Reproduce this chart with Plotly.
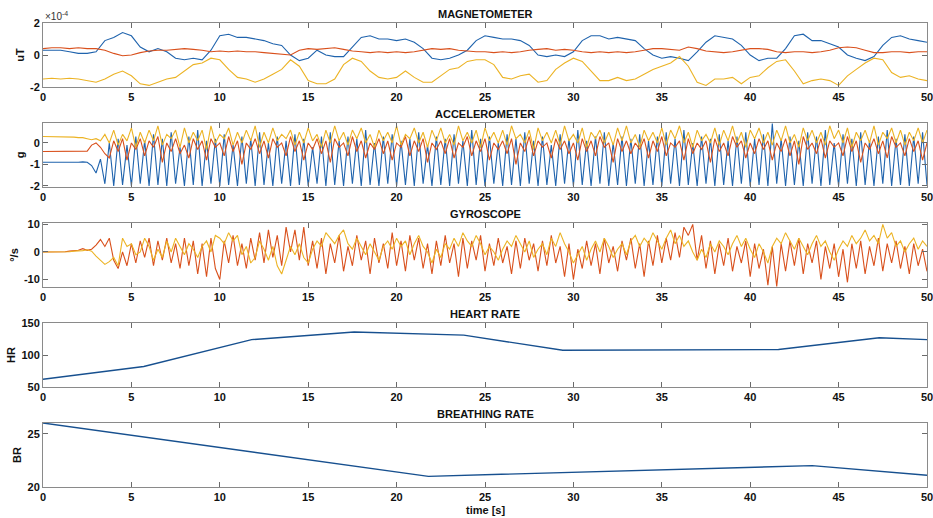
import numpy as np
import plotly.graph_objects as go

# ---------------- DATA ----------------
# Magnetometer (units of 1e-4 uT), sampled every 0.5 s
mag_dt = 0.5
mag_x = [0.3,0.3,0.3,0.2,0.1,0.1,0.2,0.9,1.1,1.4,1.2,0.5,0.2,0.4,0.2,-0.2,-0.3,-0.2,-0.3,0.3,
         1.2,1.3,1.1,1.1,1.0,0.9,0.7,0.6,0.0,-0.35,-0.2,0.3,0.0,-0.1,-0.1,0.5,1.1,1.2,1.0,1.0,
         0.9,1.0,0.8,0.4,-0.2,-0.3,-0.2,0.0,0.3,0.9,1.2,1.1,1.0,1.0,0.9,0.6,0.0,-0.1,0.0,-0.1,
         0.2,0.9,1.2,1.2,1.0,1.1,1.0,0.9,0.4,0.0,-0.2,-0.1,-0.2,-0.35,0.2,0.8,1.2,1.1,1.0,0.6,
         0.0,-0.35,-0.2,-0.2,0.4,1.2,1.3,0.9,0.9,0.7,0.5,0.0,-0.2,-0.35,-0.1,0.6,1.1,1.2,1.0,0.9,0.8]
mag_y = [0.4,0.45,0.45,0.4,0.45,0.4,0.4,0.3,0.1,-0.05,0.0,0.15,0.25,0.3,0.3,0.35,0.4,0.35,0.3,0.2,
         0.25,0.2,0.25,0.2,0.2,0.15,0.1,0.05,0.0,0.3,0.4,0.35,0.4,0.45,0.35,0.25,0.2,0.15,0.2,0.15,
         0.2,0.15,0.2,0.3,0.4,0.35,0.4,0.3,0.25,0.2,0.2,0.15,0.2,0.15,0.2,0.3,0.35,0.4,0.3,0.35,
         0.3,0.2,0.15,0.2,0.15,0.2,0.15,0.2,0.3,0.4,0.4,0.35,0.3,0.5,0.4,0.25,0.2,0.15,0.2,0.3,
         0.4,0.4,0.35,0.2,0.15,0.2,0.2,0.15,0.2,0.3,0.45,0.5,0.45,0.3,0.15,0.15,0.2,0.2,0.15,0.2,0.2]
mag_z = [-1.5,-1.45,-1.5,-1.45,-1.5,-1.6,-1.7,-1.5,-1.2,-1.0,-1.3,-1.8,-1.9,-1.7,-1.5,-1.4,-1.0,-0.6,-0.5,-0.2,
         -0.3,-0.9,-1.4,-1.5,-1.7,-1.5,-1.2,-0.9,-0.3,-0.7,-1.6,-1.8,-1.8,-1.5,-0.6,-0.2,-0.4,-1.0,-1.4,-1.5,
         -1.4,-1.0,-1.4,-1.7,-1.7,-1.3,-0.9,-0.8,-0.4,-0.3,-0.3,-0.6,-1.4,-1.5,-1.3,-1.2,-1.7,-1.6,-0.9,-0.5,
         -0.2,-0.4,-1.0,-1.6,-1.6,-1.4,-1.6,-1.5,-1.2,-0.9,-0.7,-0.5,-0.1,-0.7,-1.7,-1.9,-1.5,-1.5,-1.4,-1.8,
         -1.4,-1.3,-0.8,-0.4,-0.3,-1.0,-1.8,-1.6,-1.5,-1.6,-1.9,-1.3,-0.9,-0.5,-0.2,-0.3,-1.1,-1.4,-1.3,-1.5,-1.6]

# Accelerometer (g), sampled every 0.25 s
acc_dt = 0.25
acc_x = [-0.9,-0.9,-0.9,-0.9,-0.9,-0.9,-0.9,-0.92,-0.9,-0.88,-0.9,-1.05,-1.4,-0.75,-1.9,
         0.0,-2.0,0.2,-1.95,-0.1,-2.0,0.3,-1.9,0.1,-2.0,
         0.4,-1.95,0.2,-2.0,0.5,-1.9,-0.2,-2.0,0.3,-1.95,
         0.6,-2.0,0.1,-1.9,0.2,-2.0,0.4,-1.95,-0.1,-2.0,
         0.3,-1.9,0.2,-2.0,0.5,-1.95,0.0,-2.0,0.3,-1.9,
         0.1,-2.0,0.4,-1.95,0.2,-2.0,-0.2,-1.9,0.3,-2.0,
         0.5,-1.95,0.1,-2.0,0.3,-1.9,0.2,-2.0,0.6,-1.95,
         0.0,-2.0,0.3,-1.9,0.4,-2.0,0.1,-1.95,0.2,-2.0,
         0.5,-1.9,-0.1,-2.0,0.3,-1.95,0.2,-2.0,0.4,-1.9,
         0.1,-2.0,0.6,-1.95,0.2,-2.0,0.3,-1.9,0.0,-2.0,
         0.4,-1.95,0.2,-2.0,0.5,-1.9,0.1,-2.0,0.3,-1.95,
         -0.1,-2.0,0.4,-1.9,0.2,-2.0,0.6,-1.95,0.1,-2.0,
         0.3,-1.9,0.5,-2.0,0.0,-1.95,0.3,-2.0,0.2,-1.9,
         0.4,-2.0,0.1,-1.95,0.3,-2.0,0.5,-1.9,0.2,-2.0,
         0.6,-1.95,0.0,-2.0,0.3,-1.9,0.2,-2.0,0.4,-1.95,
         0.1,-2.0,0.3,-1.9,0.5,-2.0,0.2,-1.95,0.4,-2.0,
         0.9,-1.9,0.2,-2.0,0.3,-1.95,0.1,-2.0,0.5,-1.9,
         0.3,-2.0,0.6,-1.95,0.0,-2.0,0.4,-1.9,0.2,-2.0,
         0.5,-1.95,0.1,-2.0,0.3,-1.9,0.6,-2.0,0.2,-1.95,
         0.4,-2.0,0.3,-1.9,0.5,-1.95]
acc_y = [-0.4,-0.4,-0.4,-0.4,-0.4,-0.4,-0.4,-0.4,-0.4,-0.4,-0.38,-0.1,0.0,-0.2,-0.5,
         -0.7,0.1,-0.4,0.2,-0.8,0.0,-0.3,0.2,-0.6,0.1,
         -0.2,0.3,-0.9,0.0,-0.4,0.2,-0.5,-0.1,-0.7,0.2,
         -0.3,0.1,-0.8,0.2,-0.2,0.0,-0.6,0.3,-0.4,0.1,
         -1.0,0.0,-0.3,0.2,-0.5,0.1,-0.7,0.2,-0.2,0.0,
         -0.6,0.3,-0.4,0.1,-0.8,0.0,-0.3,0.2,-0.5,0.1,
         -0.9,0.2,-0.2,0.0,-0.6,0.3,-0.4,0.1,-0.7,0.0,
         -0.3,0.2,-0.5,0.1,-0.8,0.0,-0.2,0.3,-0.6,0.1,
         -0.4,0.2,-0.9,0.0,-0.3,0.1,-0.5,0.2,-0.7,0.0,
         -0.2,0.3,-0.6,0.1,-0.4,0.2,-0.8,0.0,-0.3,0.1,
         -0.5,0.2,-1.0,0.0,-0.4,0.3,-0.6,0.1,-0.2,0.0,
         -0.7,0.2,-0.3,0.1,-0.5,0.0,-0.8,0.2,-0.4,0.1,
         -0.6,0.3,-0.2,0.0,-0.9,0.2,-0.4,0.1,-0.5,0.0,
         -0.3,0.2,-0.7,0.1,-0.4,0.3,-0.6,0.0,-0.2,0.1,
         -0.8,0.2,-0.5,0.0,-0.3,0.1,-0.9,0.2,-0.4,0.0,
         -0.6,0.3,-0.2,0.1,-0.7,0.0,-0.5,0.2,-0.3,0.1,
         -0.8,0.0,-0.4,0.2,-0.6,0.1,-1.0,0.3,-0.3,0.0,
         -0.5,0.2,-0.7,0.1,-0.2,0.0,-0.6,0.3,-0.4,0.1,
         -0.9,0.0,-0.3,0.2,-0.5,0.1,-0.7,0.3,-0.2,0.0,
         -0.6,0.2,-0.4,0.1,-0.8,0.0]
acc_z = [0.3,0.3,0.3,0.3,0.3,0.3,0.28,0.27,0.25,0.25,0.2,0.15,0.2,0.1,0.4,
         0.0,0.6,-0.1,0.4,0.1,0.7,-0.2,0.5,0.0,0.6,
         0.1,0.8,-0.1,0.4,0.2,0.6,-0.2,0.7,0.0,0.5,
         0.1,0.6,-0.3,0.8,0.0,0.4,0.2,0.7,-0.1,0.5,
         0.0,0.6,0.1,0.8,-0.2,0.5,0.0,0.7,0.1,0.4,
         0.2,0.6,-0.1,0.5,0.0,0.7,0.1,0.4,-0.2,0.6,
         0.0,0.8,0.1,0.5,-0.1,0.6,0.2,0.7,0.0,0.4,
         -0.2,0.6,0.1,0.5,0.0,0.8,-0.1,0.4,0.2,0.7,
         0.0,0.5,-0.2,0.6,0.1,0.7,0.0,0.4,-0.1,0.8,
         0.1,0.5,0.0,0.6,-0.2,0.7,0.1,0.5,0.0,0.6,
         -0.1,0.8,0.2,0.4,0.0,0.6,-0.3,0.7,0.1,0.5,
         0.0,0.6,-0.1,0.8,0.1,0.4,0.0,0.7,-0.2,0.5,
         0.2,0.6,0.0,0.5,-0.1,0.7,0.1,0.8,0.0,0.4,
         -0.2,0.6,0.1,0.5,0.0,0.7,-0.1,0.6,0.2,0.8,
         0.0,0.5,-0.2,0.6,0.1,0.4,0.0,0.7,-0.1,0.6,
         0.1,0.8,0.0,0.5,-0.2,0.6,0.2,0.7,0.0,0.5,
         -0.1,0.6,0.1,0.8,0.0,0.4,-0.2,0.7,0.1,0.6,
         0.0,0.5,-0.1,0.8,0.2,0.6,0.0,0.7,-0.2,0.5,
         0.1,0.6,0.0,0.8,-0.1,0.5,0.2,0.7,0.0,0.6,
         -0.1,0.5,0.1,0.7,0.0,0.6]

# Gyroscope (deg/s), sampled every 0.25 s
gyr_dt = 0.25
gyr_a = [0,0,0.1,0,0.2,0.1,0.3,0.5,0.6,1.2,0.6,1.0,
         2.5,4.5,2.0,5.0,-3,-6,0,-5,3,-4,4,-2,5,-5,4,-3,5,-4,3,-6,5,-5,4,-8,3,-9,5,-6,
         -10,4,-4,6,-5,3,-6,5,-3,7,-4,8,-2,6,-5,9,0,8,-3,9,-5,4,-6,5,-8,3,-4,6,-7,2,
         -5,6,-3,4,-8,5,-4,3,-6,7,-5,4,-7,6,-3,5,-6,3,-8,4,-5,6,-4,3,-9,5,-6,4,-3,6,
         -7,3,-5,5,-4,2,-8,4,-6,5,-3,3,-7,4,-5,6,-4,2,-9,3,-10,1,-6,4,-5,3,-8,5,-4,2,
         -7,4,-3,5,-6,3,-9,4,-5,6,-4,5,-3,7,-2,9,6,10,-3,6,-6,4,-8,3,-5,5,-7,2,-4,4,
         -9,3,-6,1,-12,2,-12.5,3,-7,4,-5,5,-8,3,-4,4,-10,2,-6,3,-9,1,-11,3,-6,4,-8,2,
         -5,5,-7,3,-4,4,-6,2,-8,3,-5,1,-7]
gyr_b = [0,0,0,0.1,0,0.2,0.1,0.3,0.3,0.5,0.8,0.3,
         -1.5,-3,-4.5,-3.5,-2,-5,5,2,3,-1,0,5,2,-3,1,-2,4,0,5,2,-1,3,1,-2,2,4,0,6,
         5,3,7,4,6,-1,2,-4,-2,4,1,-3,2,-5,-8,-3,2,-1,3,-2,-4,1,4,2,7,5,3,6,8,3,
         1,5,2,-1,3,0,-3,2,4,1,5,2,4,-1,3,6,2,0,-4,1,-2,3,1,5,2,7,4,2,6,3,
         -1,2,0,-3,1,4,2,6,3,0,4,-2,1,3,-1,5,2,7,3,0,-4,-1,2,-3,1,4,0,5,2,-2,
         1,3,-1,4,6,2,5,3,7,4,1,5,8,3,6,2,4,0,-3,1,-2,3,0,4,2,-1,3,6,2,5,
         1,-2,3,0,-4,2,5,3,7,4,1,5,2,-1,3,6,2,4,0,-3,1,4,2,6,3,5,8,4,6,3,
         10,5,7,2,4,0,3,5,1,4,2]

# Heart rate and breathing rate (breakpoints)
hr_t = [0, 5.7, 11.8, 17.6, 23.8, 29.4, 41.6, 47.3, 50]
hr_v = [62, 82, 124, 136, 131, 107.5, 108.5, 127, 124]
br_t = [0, 21.8, 43.5, 50]
br_v = [26, 21.0, 22.0, 21.1]

titles = ["MAGNETOMETER", "ACCELEROMETER", "GYROSCOPE", "HEART RATE", "BREATHING RATE"]
ylabels = ["uT", "g", "°/s", "HR", "BR"]
x_ticks = [0, 5, 10, 15, 20, 25, 30, 35, 40, 45, 50]

# ---------------- STYLE ----------------
BLUE = "#1f63ad"
RED = "#d9501c"
YEL = "#ecb324"
NAVY = "#17508f"
FONT = "Liberation Sans"
AXC = "#8a8a8a"

W, H = 933, 518
ML, MR, MT, MB = 43, 6, 23, 31
plot_h = H - MT - MB
panel_px = 64
step_px = 100

fig = go.Figure()

def tgrid(vals, dt):
    return np.arange(len(vals)) * dt

def add(xv, yv, color, idx, width=1.1):
    fig.add_trace(go.Scatter(x=xv, y=yv, mode="lines",
                             line=dict(color=color, width=width),
                             xaxis=f"x{idx if idx > 1 else ''}",
                             yaxis=f"y{idx if idx > 1 else ''}",
                             showlegend=False, hoverinfo="skip"))

add(tgrid(mag_x, mag_dt), mag_x, BLUE, 1)
add(tgrid(mag_y, mag_dt), mag_y, RED, 1)
add(tgrid(mag_z, mag_dt), mag_z, YEL, 1)
add(tgrid(acc_x, acc_dt), acc_x, BLUE, 2)
add(tgrid(acc_y, acc_dt), acc_y, RED, 2)
add(tgrid(acc_z, acc_dt), acc_z, YEL, 2)
add(tgrid(gyr_a, gyr_dt), gyr_a, RED, 3)
add(tgrid(gyr_b, gyr_dt), gyr_b, YEL, 3)
add(hr_t, hr_v, NAVY, 4, 1.4)
add(br_t, br_v, NAVY, 5, 1.4)

yranges = [[-2, 2], [-2.05, 0.93], [-12.7, 10.5], [50, 150], [20, 26]]
yticks = [[-2, 0, 2], [-2, -1, 0], [-10, 0, 10], [50, 100, 150], [20, 25]]

tickfont = dict(family=FONT, size=11, color="#111", weight="bold")
layout = dict(width=W, height=H, margin=dict(l=ML, r=MR, t=MT, b=MB, autoexpand=False),
              paper_bgcolor="white", plot_bgcolor="white",
              font=dict(family=FONT, color="#111"), showlegend=False)
annotations = []
for i in range(5):
    top_px = MT + i * step_px
    bot_px = top_px + panel_px
    d0 = (H - MB - bot_px) / plot_h
    d1 = (H - MB - top_px) / plot_h
    sfx = "" if i == 0 else str(i + 1)
    layout["xaxis" + sfx] = dict(
        domain=[0, 1], range=[0, 50], anchor="y" + sfx, automargin=False,
        tickvals=x_ticks, ticktext=[str(v) for v in x_ticks],
        showline=True, linecolor=AXC, linewidth=1, mirror="ticks",
        ticks="inside", ticklen=5, tickcolor="#6a6a6a", showgrid=False,
        zeroline=False, tickfont=tickfont, ticklabeloverflow="allow",
    )
    layout["yaxis" + sfx] = dict(
        domain=[d0, d1], range=yranges[i], anchor="x" + sfx, automargin=False,
        tickvals=yticks[i], ticktext=[str(v) for v in yticks[i]],
        showline=True, linecolor=AXC, linewidth=1, mirror="ticks",
        ticks="inside", ticklen=5, tickcolor="#6a6a6a", showgrid=False,
        zeroline=False, tickfont=tickfont, ticklabeloverflow="allow",
        title=dict(text=f"<b>{ylabels[i]}</b>", font=dict(family=FONT, size=11), standoff=3),
    )
    annotations.append(dict(text=f"<b>{titles[i]}</b>", x=0.5, y=d1, xref="paper", yref="paper",
                            xanchor="center", yanchor="bottom", yshift=1, showarrow=False,
                            font=dict(family=FONT, size=11, color="#111")))

annotations.append(dict(text="×10<sup>-4</sup>", x=0, y=1, xref="paper", yref="paper",
                        xanchor="left", yanchor="bottom", yshift=-1, showarrow=False,
                        font=dict(family=FONT, size=10, color="#333")))
annotations.append(dict(text="<b>time [s]</b>", x=0.5, y=0, xref="paper", yref="paper",
                        xanchor="center", yanchor="top", yshift=-15, showarrow=False,
                        font=dict(family=FONT, size=11, color="#111")))
layout["annotations"] = annotations
fig.update_layout(**layout)
fig.write_html("out.html",
               config={"displayModeBar": False},
               post_script="document.body.style.margin='0';document.body.style.padding='0';"
                           "document.documentElement.style.overflow='hidden';")
